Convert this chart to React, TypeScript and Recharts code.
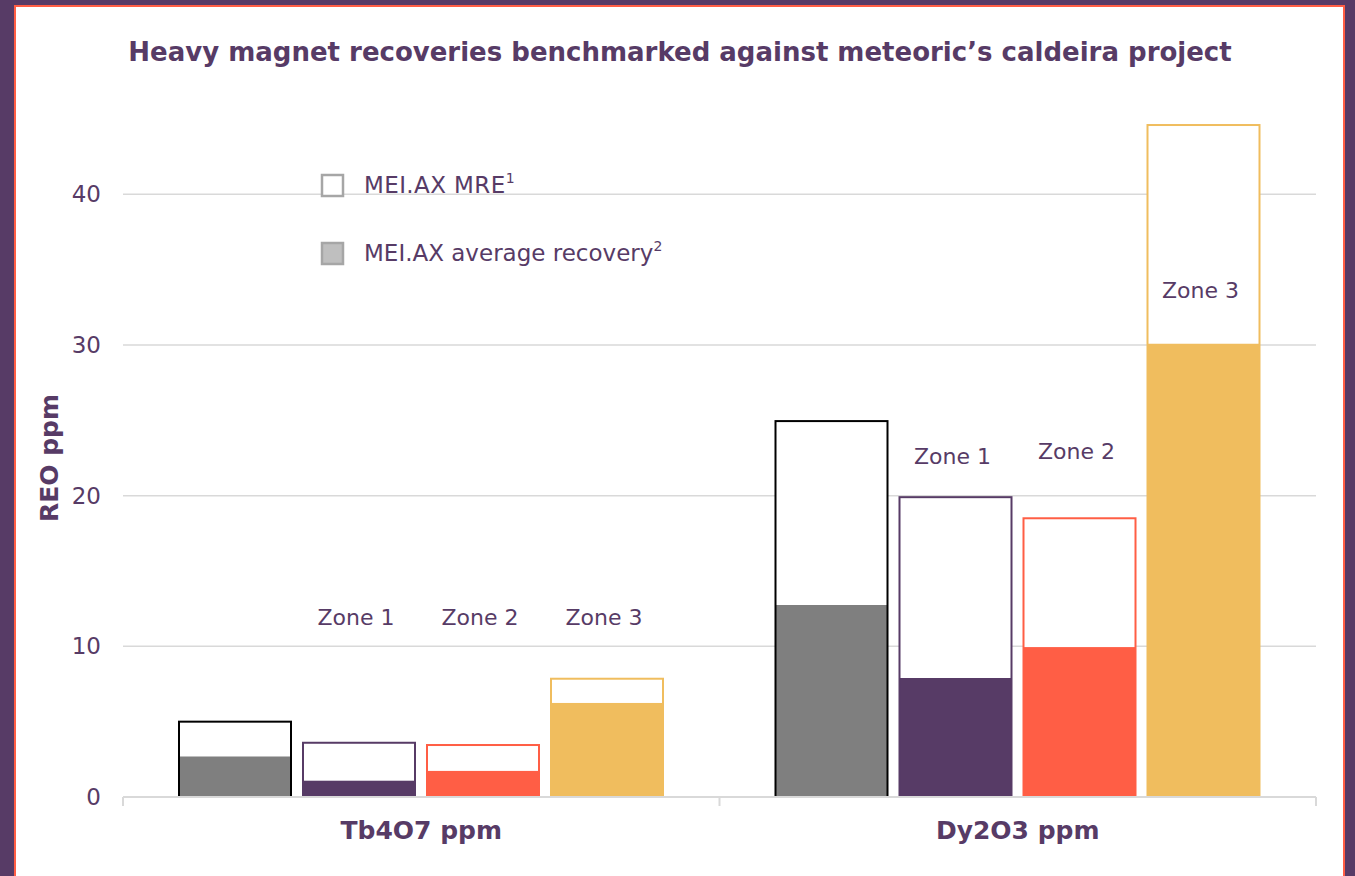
import React from 'react';
import { BarChart, Bar, XAxis, YAxis, CartesianGrid, Legend } from 'recharts';

const PURPLE = '#573B66';
const RED = '#FF5E45';
const GOLD = '#F0BD5E';
const GRAY = '#7F7F7F';
const AXIS_GRAY = '#D9D9D9';
const FONT = '"DejaVu Sans", sans-serif';

const categories = ['Tb4O7 ppm', 'Dy2O3 ppm'];
const benchmarkMre = [5.0, 24.95];
const benchmarkRecovery = [2.7, 12.75];
const zone1Mre = [3.6, 19.9];
const zone1Recovery = [1.1, 7.9];
const zone2Mre = [3.45, 18.5];
const zone2Recovery = [1.75, 9.95];
const zone3Mre = [7.85, 44.6];
const zone3Recovery = [6.25, 30.1];
const zone1LabelLevel = [11.9, 22.6];
const zone2LabelLevel = [11.9, 22.9];
const zone3LabelLevel = [11.9, 33.6];
const yTicks = [0, 10, 20, 30, 40];
const gridValues = [10, 20, 30, 40];
const legendLabels = ['MEI.AX MRE', 'MEI.AX average recovery'];
const legendMarks = ['1', '2'];
const titleText = 'Heavy magnet recoveries benchmarked against meteoric\u2019s caldeira project';

const TICK_SIZE = 8;
const TICK_MARGIN = 16;

const slots = [
  { key: 'bench', name: '', mre: benchmarkMre, rec: benchmarkRecovery, lbl: null as number[] | null, fill: GRAY, stroke: '#000000' },
  { key: 'z1', name: 'Zone 1', mre: zone1Mre, rec: zone1Recovery, lbl: zone1LabelLevel, fill: PURPLE, stroke: PURPLE },
  { key: 'z2', name: 'Zone 2', mre: zone2Mre, rec: zone2Recovery, lbl: zone2LabelLevel, fill: RED, stroke: RED },
  { key: 'z3', name: 'Zone 3', mre: zone3Mre, rec: zone3Recovery, lbl: zone3LabelLevel, fill: GOLD, stroke: GOLD },
];

const data = categories.map((cat, i) => {
  const row: any = { cat };
  slots.forEach((s) => {
    row[`rec_${s.key}`] = s.rec[i];
    row[`rem_${s.key}`] = s.mre[i] - s.rec[i];
    row[`lbl_${s.key}`] = s.lbl ? s.lbl[i] : null;
  });
  return row;
});

const makeRemShape = (slot: any) => (props: any) => {
  const { x, y, width, height, payload } = props;
  const rem = payload[`rem_${slot.key}`];
  const rec = payload[`rec_${slot.key}`];
  const lbl = payload[`lbl_${slot.key}`];
  const px = height / rem;
  const baseY = y + height + rec * px;
  return (
    <g>
      <rect x={x} y={y} width={width} height={height} fill="#ffffff" />
      <rect x={x} y={y} width={width} height={baseY - y} fill="none" stroke={slot.stroke} strokeWidth={2} />
      {lbl != null && slot.name ? (
        <text
          x={x + width / 2 - 3}
          y={baseY - lbl * px}
          textAnchor="middle"
          dominantBaseline="central"
          fill={PURPLE}
          fontSize={22}
          fontFamily={FONT}
        >
          {slot.name}
        </text>
      ) : null}
    </g>
  );
};

const CategoryTick = (props: any) => {
  const { x, y, payload, width, visibleTicksCount } = props;
  const half = width / (2 * (visibleTicksCount || categories.length));
  const axisY = y - TICK_SIZE - TICK_MARGIN;
  const idx = payload.index ?? categories.indexOf(payload.value);
  return (
    <g>
      <line x1={x - half} x2={x - half} y1={axisY} y2={axisY + 9} stroke={AXIS_GRAY} strokeWidth={2} />
      {idx === categories.length - 1 ? (
        <line x1={x + half} x2={x + half} y1={axisY} y2={axisY + 9} stroke={AXIS_GRAY} strokeWidth={2} />
      ) : null}
      <text x={x} y={y} dy="0.71em" textAnchor="middle" fill={PURPLE} fontSize={25} fontWeight={700} fontFamily={FONT}>
        {payload.value}
      </text>
    </g>
  );
};

const YLabel = (props: any) => {
  const vb = props.viewBox || {};
  const cx = vb.x + 26;
  const cy = vb.y + vb.height / 2;
  return (
    <text
      x={cx}
      y={cy}
      transform={`rotate(-90, ${cx}, ${cy})`}
      textAnchor="middle"
      dominantBaseline="central"
      fill={PURPLE}
      fontSize={25}
      fontWeight={700}
      fontFamily={FONT}
    >
      REO ppm
    </text>
  );
};

const LegendContent = () => (
  <svg width={420} height={110}>
    <rect x={13} y={11} width={21} height={21} fill="#ffffff" stroke="#A6A6A6" strokeWidth={2.5} />
    <text x={55} y={29} fill={PURPLE} fontSize={23} fontFamily={FONT} letterSpacing={0.4}>
      {legendLabels[0]}
      <tspan fontSize={14} dy={-10}>{legendMarks[0]}</tspan>
    </text>
    <rect x={13} y={79} width={21} height={21} fill="#BFBFBF" stroke="#A6A6A6" strokeWidth={2.5} />
    <text x={55} y={97} fill={PURPLE} fontSize={23} fontFamily={FONT}>
      {legendLabels[1]}
      <tspan fontSize={14} dy={-10}>{legendMarks[1]}</tspan>
    </text>
  </svg>
);

export default function App() {
  return (
    <div style={{ position: 'absolute', left: 0, top: 0, width: 1355, height: 876, background: PURPLE, overflow: 'hidden', fontFamily: FONT }}>
      <div
        style={{
          position: 'absolute',
          left: 14,
          top: 5,
          width: 1331,
          height: 900,
          boxSizing: 'border-box',
          border: `2px solid ${RED}`,
          background: '#ffffff',
        }}
      />
      <svg style={{ position: 'absolute', left: 0, top: 0 }} width={1355} height={100}>
        <text x={680} y={61} textAnchor="middle" fill={PURPLE} fontSize={26} fontWeight={700} fontFamily={FONT}>
          {titleText}
        </text>
      </svg>
      <div style={{ position: 'absolute', left: 0, top: 0 }}>
        <BarChart
          width={1355}
          height={876}
          data={data}
          margin={{ top: 119, right: 39, bottom: 19, left: 23 }}
          barSize={112}
          barGap={12}
        >
          <CartesianGrid vertical={false} horizontalValues={gridValues} stroke={AXIS_GRAY} strokeWidth={1.5} />
          <XAxis
            dataKey="cat"
            axisLine={{ stroke: AXIS_GRAY, strokeWidth: 2 }}
            tickLine={false}
            tickSize={TICK_SIZE}
            tickMargin={TICK_MARGIN}
            height={60}
            interval={0}
            tick={CategoryTick}
          />
          <YAxis
            domain={[0, 45]}
            ticks={yTicks}
            axisLine={false}
            tickLine={false}
            tickSize={0}
            tickMargin={22}
            width={100}
            tick={{ fill: PURPLE, fontSize: 23, fontFamily: FONT }}
            label={{ content: YLabel }}
          />
          <Legend
            layout="vertical"
            align="center"
            verticalAlign="middle"
            content={LegendContent}
            wrapperStyle={{ position: 'absolute', left: 309, top: 164, width: 420, height: 110 }}
          />
          {slots.map((s) => [
            <Bar
              key={`rec_${s.key}`}
              dataKey={`rec_${s.key}`}
              stackId={s.key}
              fill={s.fill}
              isAnimationActive={false}
            />,
            <Bar
              key={`rem_${s.key}`}
              dataKey={`rem_${s.key}`}
              stackId={s.key}
              fill="#ffffff"
              shape={makeRemShape(s)}
              isAnimationActive={false}
            />,
          ])}
        </BarChart>
      </div>
    </div>
  );
}
